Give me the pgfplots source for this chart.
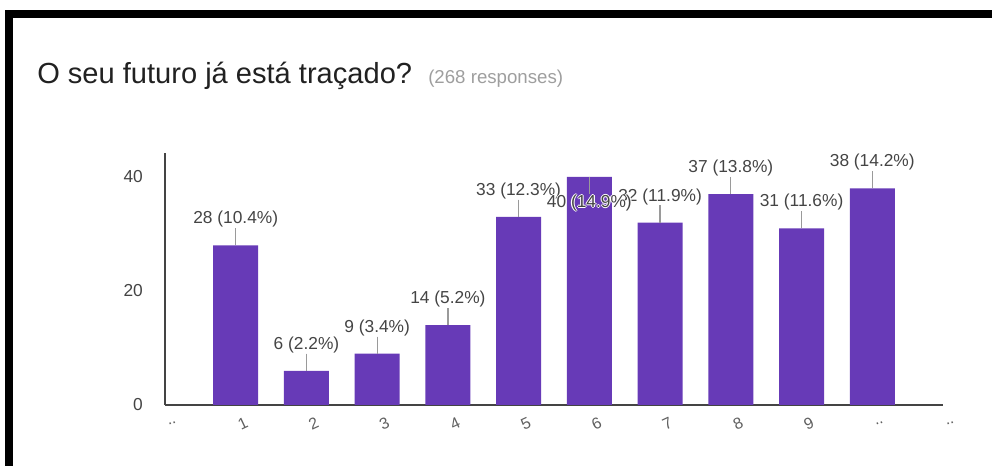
\documentclass[border=0pt]{standalone}
\usepackage{pgfplots}
\pgfplotsset{compat=1.18}
\usepackage{pgfplotstable}
\usepackage{fontspec}
\setmainfont{Liberation Sans}
\definecolor{barc}{HTML}{673AB7}
\definecolor{txt}{HTML}{444444}
\definecolor{titlec}{HTML}{212121}
\definecolor{respc}{HTML}{9E9E9E}
\definecolor{axc}{HTML}{444444}
\definecolor{leadc}{HTML}{9A9A9A}
\newcommand{\halo}[1]{\leavevmode\rlap{\color{white}\kern0.8pt #1}\rlap{\color{white}\kern-0.8pt #1}\rlap{\color{white}\raisebox{0.8pt}{#1}}\rlap{\color{white}\raisebox{-0.8pt}{#1}}#1}
\pgfplotstableread{
x y ep em
1 28 3 0
2 6 3 0
3 9 3 0
4 14 3 0
5 33 3 0
6 40 0 3
7 32 3 0
8 37 3 0
9 31 3 0
10 38 3 0
}\data
\begin{document}
\begin{tikzpicture}
\path[use as bounding box] (0,0) rectangle (744pt,349.5pt);
\fill[black] (3.75pt,336pt) rectangle (744pt,342pt);
\fill[black] (3.75pt,0pt) rectangle (9.75pt,342pt);
\node[anchor=base west, inner sep=0pt, font=\fontsize{21.8}{24}\selectfont, text=titlec] at (27.75pt,286.5pt) {O seu futuro já está traçado?};
\node[anchor=base west, inner sep=0pt, font=\fontsize{14}{16}\selectfont, text=respc] at (321pt,286.5pt) {(268 responses)};
\begin{axis}[
  at={(123.75pt,45.75pt)}, anchor=south west,
  scale only axis, width=583.5pt, height=189pt,
  xmin=0, xmax=11, ymin=0, ymax=44.2,
  enlargelimits=false, clip=false,
  axis lines=left,
  axis line style={-, draw=axc, line width=1.2pt},
  tick style={draw=none},
  ytick={0,20,40},
  xtick={0,1,...,11},
  xticklabels={..,1,2,3,4,5,6,7,8,9,..,..},
  /pgf/number format/assume math mode=true,
  yticklabel style={font=\fontsize{13}{15}\selectfont, text=txt, anchor=east, inner sep=0pt, xshift=-14.25pt},
  xticklabel style={font=\fontsize{12}{14}\selectfont, text=txt!85, rotate=25, anchor=center, inner sep=0pt, yshift=-12.75pt},
  labstyle/.style 2 args={draw=none, mark=none, point meta=explicit symbolic,
    nodes near coords={#2{\pgfplotspointmeta}},
    nodes near coords style={anchor=center, inner sep=0pt, font=\fontsize{13}{15}\selectfont, text=txt, yshift=#1}},
]
\addplot[ybar, bar width=33.75pt, fill=barc, draw=none,
  error bars/.cd, y dir=both, y explicit, error mark=none,
  error bar style={draw=leadc, line width=0.9pt}]
  table[x=x, y=y, y error plus=ep, y error minus=em] {\data};
\addplot[labstyle={19.5pt}{\relax}] coordinates {
  (1,28) [28 (10.4\%)]
  (2,6) [6 (2.2\%)]
  (3,9) [9 (3.4\%)]
  (4,14) [14 (5.2\%)]
  (5,33) [33 (12.3\%)]
  (7,32) [32 (11.9\%)]
  (8,37) [37 (13.8\%)]
  (9,31) [31 (11.6\%)]
  (10,38) [38 (14.2\%)]
};
\addplot[labstyle={-19.5pt}{\halo}] coordinates {
  (6,40) [40 (14.9\%)]
};
\end{axis}
\end{tikzpicture}
\end{document}
